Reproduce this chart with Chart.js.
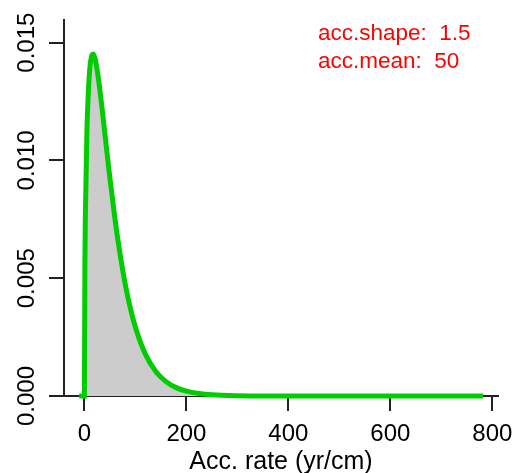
<!DOCTYPE html>
<html><head><meta charset="utf-8">
<script src="https://cdn.jsdelivr.net/npm/chart.js@4/dist/chart.umd.min.js"></script>
<style>html,body{margin:0;padding:0;background:#fff}canvas{display:block}</style>
</head><body>
<canvas id="c" width="515" height="473"></canvas>
<script>
// Accumulation rate (yr/cm) and prior density
const accRate = [-10, 0, 1, 2, 5, 10, 15, 17, 20, 25, 30, 35, 40, 45, 50, 60, 70, 80, 90, 100, 120, 140, 160, 180, 200, 225, 250, 300, 350, 400, 500, 600, 700, 782];
const density = [0, 0, 0.005690, 0.007809, 0.011284, 0.013736, 0.014479, 0.014517, 0.014391, 0.013848, 0.013057, 0.012139, 0.011169, 0.010196, 0.009251, 0.007507, 0.006007, 0.004758, 0.003738, 0.002919, 0.001755, 0.001040, 0.000610, 0.000355, 0.000206, 0.000103, 0.0000513, 0.0000125, 0.000003, 0.0000007, 0, 0, 0, 0];
const xTicks = [0, 200, 400, 600, 800];
const yTicks = [0, 0.005, 0.010, 0.015];
const xTitle = 'Acc. rate (yr/cm)';
const annLines = ['acc.shape:  1.5', 'acc.mean:  50'];
const annAnchor = {x: 458, y: [0.01511, 0.01392]};

const FONT = '"Liberation Sans", Arial, sans-serif';

const annPlugin = {
  id: 'ann',
  afterDatasetsDraw(chart) {
    const c = chart.ctx, xs = chart.scales.x, ys = chart.scales.y;
    c.save();
    c.fillStyle = '#ff0000';
    c.font = '22.5px ' + FONT;
    c.textAlign = 'left';
    c.textBaseline = 'alphabetic';
    annLines.forEach((t, i) => c.fillText(t, xs.getPixelForValue(annAnchor.x), ys.getPixelForValue(annAnchor.y[i])));
    c.restore();
  }
};

const axisGrid = {display: true, drawOnChartArea: false, drawTicks: true, tickLength: 15, color: '#222', lineWidth: 2};
const axisBorder = {display: true, color: '#222', width: 2};

new Chart(document.getElementById('c'), {
  type: 'line',
  data: {
    datasets: [{
      data: accRate.map((x, i) => ({x: x, y: density[i]})),
      borderColor: '#00cd00',
      borderWidth: 5,
      backgroundColor: '#cccccc',
      fill: 'origin',
      pointRadius: 0,
      cubicInterpolationMode: 'monotone',
      clip: 8
    }]
  },
  options: {
    responsive: false,
    animation: false,
    devicePixelRatio: 1,
    layout: {padding: {top: 20, right: 17, left: 0, bottom: 0}},
    plugins: {legend: {display: false}, tooltip: {enabled: false}},
    scales: {
      x: {
        type: 'linear', min: -40, max: 811,
        afterBuildTicks: s => { s.ticks = xTicks.map(v => ({value: v})); },
        afterFit: s => { s.height = 77; s.paddingLeft = 0; s.paddingRight = 0; },
        grid: axisGrid, border: axisBorder,
        ticks: {font: {family: FONT, size: 24}, color: '#000', padding: 9, maxRotation: 0, autoSkip: false},
        title: {display: true, text: xTitle, font: {family: FONT, size: 25, lineHeight: 0.9}, color: '#000', padding: 0}
      },
      y: {
        type: 'linear', min: 0, max: 0.01596,
        afterBuildTicks: s => { s.ticks = yTicks.map(v => ({value: v})); },
        afterFit: s => { s.width = 64; s.paddingTop = 0; s.paddingBottom = 0; },
        grid: axisGrid, border: axisBorder,
        ticks: {font: {family: FONT, size: 24}, color: '#000', minRotation: 90, maxRotation: 90, crossAlign: 'center', padding: -8, autoSkip: false, callback: v => v.toFixed(3)}
      }
    }
  },
  plugins: [annPlugin]
});
</script>
</body></html>
